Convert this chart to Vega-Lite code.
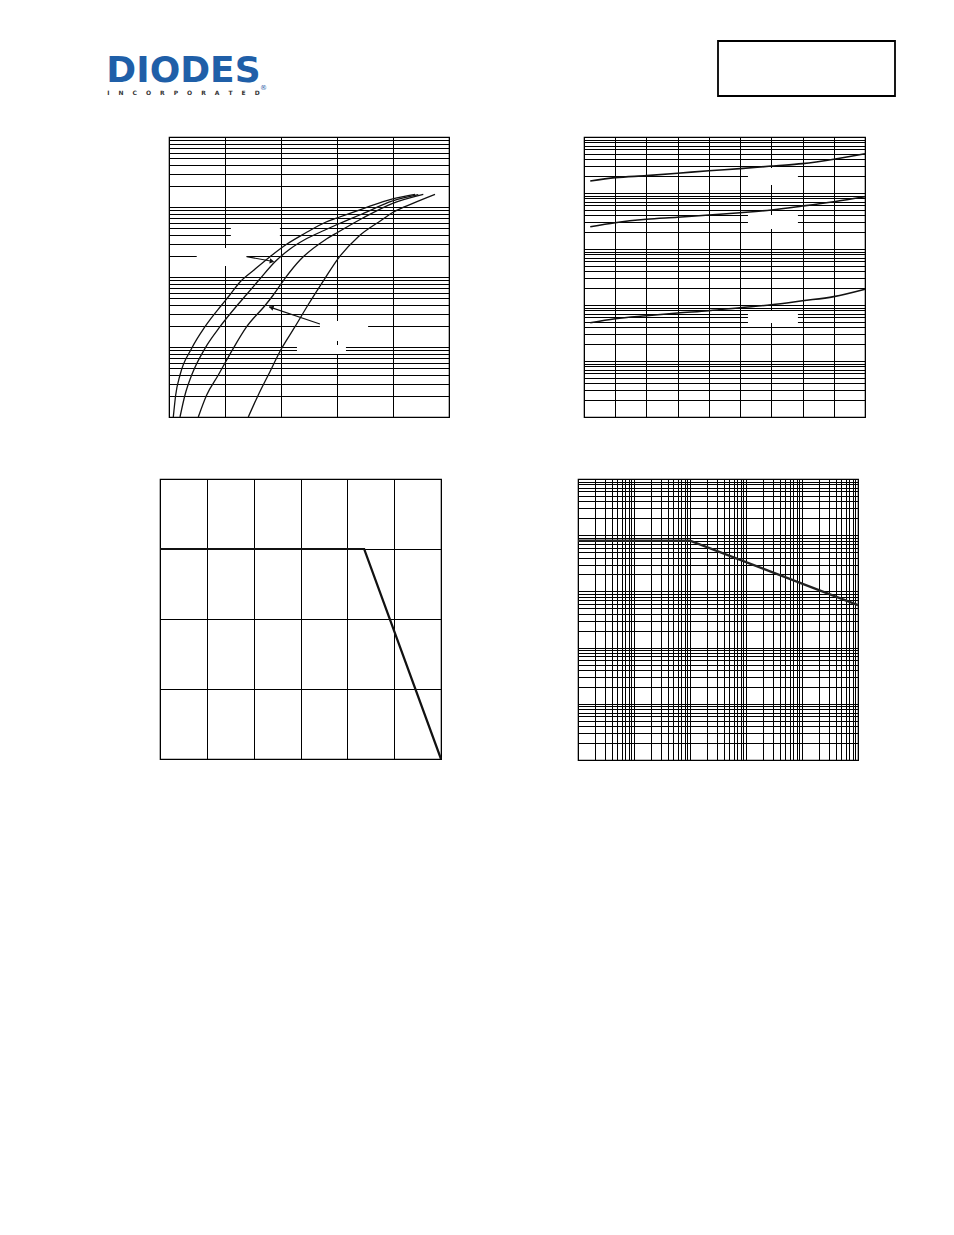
{
  "$schema": "https://vega.github.io/schema/vega-lite/v6.json",
  "padding": {"left": 105, "top": 40, "right": 0, "bottom": 0},
  "background": "white",
  "config": {
    "view": {"stroke": "black", "strokeWidth": 1.2},
    "axis": {"domain": false, "ticks": false, "labels": false, "grid": true, "gridColor": "black", "gridOpacity": 1, "gridWidth": 1}
  },
  "datasets": {
    "c1": [
      {"s": "A", "x": 0.0154, "y": 0.1}, {"s": "A", "x": 0.0239, "y": 0.2062}, {"s": "A", "x": 0.0393, "y": 0.398}, {"s": "A", "x": 0.0811, "y": 0.958},
      {"s": "A", "x": 0.1286, "y": 1.95}, {"s": "A", "x": 0.1882, "y": 3.98}, {"s": "A", "x": 0.2143, "y": 5.35}, {"s": "A", "x": 0.2536, "y": 8.48},
      {"s": "A", "x": 0.3036, "y": 12.6}, {"s": "A", "x": 0.3607, "y": 19.5}, {"s": "A", "x": 0.4214, "y": 29.6}, {"s": "A", "x": 0.4857, "y": 42.1},
      {"s": "A", "x": 0.5571, "y": 60.1}, {"s": "A", "x": 0.6046, "y": 70.8}, {"s": "A", "x": 0.6893, "y": 93.6}, {"s": "A", "x": 0.7989, "y": 131},
      {"s": "A", "x": 0.8786, "y": 152},
      {"s": "B", "x": 0.0393, "y": 0.1}, {"s": "B", "x": 0.0571, "y": 0.2062}, {"s": "B", "x": 0.0811, "y": 0.398}, {"s": "B", "x": 0.1286, "y": 0.958},
      {"s": "B", "x": 0.1821, "y": 1.95}, {"s": "B", "x": 0.2446, "y": 3.98}, {"s": "B", "x": 0.2786, "y": 5.71}, {"s": "B", "x": 0.3214, "y": 9.06},
      {"s": "B", "x": 0.3786, "y": 16.5}, {"s": "B", "x": 0.4321, "y": 25.1}, {"s": "B", "x": 0.4857, "y": 34.3}, {"s": "B", "x": 0.5571, "y": 46.9},
      {"s": "B", "x": 0.6046, "y": 57.2}, {"s": "B", "x": 0.6893, "y": 79.4}, {"s": "B", "x": 0.7989, "y": 122}, {"s": "B", "x": 0.8904, "y": 150},
      {"s": "C", "x": 0.1046, "y": 0.1}, {"s": "C", "x": 0.1346, "y": 0.2062}, {"s": "C", "x": 0.1761, "y": 0.398}, {"s": "C", "x": 0.2296, "y": 0.958},
      {"s": "C", "x": 0.2775, "y": 1.95}, {"s": "C", "x": 0.3446, "y": 3.98}, {"s": "C", "x": 0.3725, "y": 5.53}, {"s": "C", "x": 0.4143, "y": 9.58},
      {"s": "C", "x": 0.4679, "y": 17.5}, {"s": "C", "x": 0.5571, "y": 33.8}, {"s": "C", "x": 0.6046, "y": 43.9}, {"s": "C", "x": 0.6893, "y": 68.5},
      {"s": "C", "x": 0.7989, "y": 113}, {"s": "C", "x": 0.9082, "y": 152},
      {"s": "D", "x": 0.2832, "y": 0.1}, {"s": "D", "x": 0.3189, "y": 0.2062}, {"s": "D", "x": 0.3546, "y": 0.398}, {"s": "D", "x": 0.4025, "y": 0.958},
      {"s": "D", "x": 0.45, "y": 1.95}, {"s": "D", "x": 0.4964, "y": 3.98}, {"s": "D", "x": 0.5571, "y": 9.58}, {"s": "D", "x": 0.6046, "y": 18.5},
      {"s": "D", "x": 0.6761, "y": 37.7}, {"s": "D", "x": 0.7596, "y": 65.2}, {"s": "D", "x": 0.7989, "y": 83.4}, {"s": "D", "x": 0.8429, "y": 101},
      {"s": "D", "x": 0.95, "y": 152}
    ],
    "c1gaps": [
      {"x": 0.221, "x2": 0.396, "y": 55.3, "y2": 33.8},
      {"x": 0.099, "x2": 0.277, "y": 26.0, "y2": 14.4},
      {"x": 0.539, "x2": 0.711, "y": 2.35, "y2": 1.22},
      {"x": 0.457, "x2": 0.632, "y": 1.07, "y2": 0.794}
    ],
    "c1arrows": [
      {"x": 0.2775, "y": 19.5, "x2": 0.3679, "y2": 16.8},
      {"x": 0.539, "y": 2.13, "x2": 0.358, "y2": 3.75}
    ],
    "c1head1": [{"x": 0.3679, "y": 16.8}],
    "c1head2": [{"x": 0.365, "y": 3.68}],
    "c2": [
      {"s": "1", "x": -45, "y": 16.4}, {"s": "1", "x": -25, "y": 18.8}, {"s": "1", "x": 0, "y": 20.4}, {"s": "1", "x": 25, "y": 22.5}, {"s": "1", "x": 50, "y": 25.0},
      {"s": "1", "x": 75, "y": 27.2}, {"s": "1", "x": 100, "y": 30.3}, {"s": "1", "x": 125, "y": 33.4}, {"s": "1", "x": 150, "y": 40.0}, {"s": "1", "x": 175, "y": 50.3},
      {"s": "2", "x": -45, "y": 2.50}, {"s": "2", "x": -25, "y": 2.95}, {"s": "2", "x": 0, "y": 3.39}, {"s": "2", "x": 25, "y": 3.68}, {"s": "2", "x": 50, "y": 4.05},
      {"s": "2", "x": 75, "y": 4.45}, {"s": "2", "x": 100, "y": 4.97}, {"s": "2", "x": 125, "y": 5.86}, {"s": "2", "x": 150, "y": 7.0}, {"s": "2", "x": 175, "y": 8.59},
      {"s": "3", "x": -45, "y": 0.0483}, {"s": "3", "x": -25, "y": 0.0569}, {"s": "3", "x": 0, "y": 0.0644}, {"s": "3", "x": 25, "y": 0.0719}, {"s": "3", "x": 50, "y": 0.0791},
      {"s": "3", "x": 75, "y": 0.0895}, {"s": "3", "x": 100, "y": 0.101}, {"s": "3", "x": 125, "y": 0.119}, {"s": "3", "x": 150, "y": 0.141}, {"s": "3", "x": 175, "y": 0.191}
    ],
    "c2gaps": [
      {"x": 81.3, "x2": 121.3, "y": 27.9, "y2": 13.9},
      {"x": 81.3, "x2": 121.3, "y": 4.05, "y2": 2.28},
      {"x": 81.3, "x2": 121.3, "y": 0.0781, "y2": 0.0477}
    ],
    "c3": [{"x": 0, "y": 300}, {"x": 109, "y": 300}, {"x": 150, "y": 0}],
    "c4": [{"x": 0.001, "y": 80}, {"x": 0.1, "y": 80}, {"x": 100, "y": 5.7}],
    "logo": [{"name": "DIODES", "sub": "I\u2003\u2002N\u2003\u2002C\u2003\u2002O\u2003\u2002R\u2003\u2002P\u2003\u2002O\u2003\u2002R\u2003\u2002A\u2003\u2002T\u2003\u2002E\u2003\u2002D", "r": "®"}],
    "blank": [{"t": ""}]
  },
  "spacing": 39,
  "vconcat": [
    {
      "spacing": 450,
      "hconcat": [
        {
          "width": 157, "height": 55,
          "view": {"stroke": null},
          "data": {"name": "logo"},
          "layer": [
            {"mark": {"type": "text", "align": "center", "baseline": "middle", "font": "DejaVu Sans", "fontWeight": "bold", "fontSize": 36, "color": "#1f5fa8", "dy": 2}, "encoding": {"text": {"field": "name"}}},
            {"mark": {"type": "text", "align": "center", "baseline": "middle", "font": "DejaVu Sans", "fontWeight": "bold", "fontSize": 6, "color": "#333333", "dy": 24}, "encoding": {"text": {"field": "sub"}}},
            {"mark": {"type": "text", "align": "center", "baseline": "middle", "font": "DejaVu Sans", "fontSize": 7, "color": "#1f5fa8", "dx": 80, "dy": 19}, "encoding": {"text": {"field": "r"}}}
          ]
        },
        {
          "width": 177, "height": 55,
          "view": {"stroke": "black", "strokeWidth": 1.8},
          "data": {"name": "blank"},
          "mark": {"type": "text"},
          "encoding": {"text": {"field": "t"}}
        }
      ]
    },
    {
      "spacing": 133,
      "hconcat": [
        {
          "spacing": 0,
          "hconcat": [
            {
              "width": 63, "height": 10,
              "view": {"stroke": null, "fill": "white"},
              "data": {"name": "blank"},
              "mark": {"type": "text"},
              "encoding": {"text": {"field": "t"}}
            },
            {
              "width": 280, "height": 280,
              "encoding": {
                "x": {"field": "x", "type": "quantitative", "scale": {"domain": [0, 1], "nice": false, "zero": false}, "axis": {"title": null, "values": [0, 0.2, 0.4, 0.6, 0.8, 1], "maxExtent": 0}},
                "y": {"field": "y", "type": "quantitative", "scale": {"type": "log", "domain": [0.1, 1000], "nice": false},
                      "axis": {"title": null, "minExtent": 0, "maxExtent": 0, "values": [0.1,0.2,0.3,0.4,0.5,0.6,0.7,0.8,0.9,1,2,3,4,5,6,7,8,9,10,20,30,40,50,60,70,80,90,100,200,300,400,500,600,700,800,900,1000]}}
              },
              "layer": [
                {
                  "data": {"name": "c1gaps"},
                  "mark": {"type": "rect", "fill": "white"},
                  "encoding": {"x2": {"field": "x2"}, "y2": {"field": "y2"}}
                },
                {
                  "data": {"name": "c1"},
                  "mark": {"type": "line", "color": "#111111", "strokeWidth": 1.3, "interpolate": "monotone"},
                  "encoding": {"detail": {"field": "s"}}
                },
                {
                  "data": {"name": "c1arrows"},
                  "mark": {"type": "rule", "color": "#111111", "strokeWidth": 1.2},
                  "encoding": {"x2": {"field": "x2"}, "y2": {"field": "y2"}}
                },
                {
                  "data": {"name": "c1head1"},
                  "mark": {"type": "point", "shape": "triangle-up", "filled": true, "color": "#111111", "opacity": 1, "size": 28, "angle": 100},
                  "encoding": {}
                },
                {
                  "data": {"name": "c1head2"},
                  "mark": {"type": "point", "shape": "triangle-up", "filled": true, "color": "#111111", "opacity": 1, "size": 28, "angle": 289},
                  "encoding": {}
                }
              ]
            }
          ]
        },
        {
          "width": 281, "height": 280,
          "encoding": {
            "x": {"field": "x", "type": "quantitative", "scale": {"domain": [-50, 175], "nice": false, "zero": false}, "axis": {"title": null, "values": [-50,-25,0,25,50,75,100,125,150,175], "maxExtent": 0}},
            "y": {"field": "y", "type": "quantitative", "scale": {"type": "log", "domain": [0.001, 100], "nice": false},
                  "axis": {"title": null, "minExtent": 0, "maxExtent": 0, "values": [0.001,0.002,0.003,0.004,0.005,0.006,0.007,0.008,0.009,0.01,0.02,0.03,0.04,0.05,0.06,0.07,0.08,0.09,0.1,0.2,0.3,0.4,0.5,0.6,0.7,0.8,0.9,1,2,3,4,5,6,7,8,9,10,20,30,40,50,60,70,80,90,100]}}
          },
          "layer": [
            {
              "data": {"name": "c2gaps"},
              "mark": {"type": "rect", "fill": "white"},
              "encoding": {"x2": {"field": "x2"}, "y2": {"field": "y2"}}
            },
            {
              "data": {"name": "c2"},
              "mark": {"type": "line", "color": "#111111", "strokeWidth": 1.6, "interpolate": "monotone"},
              "encoding": {"detail": {"field": "s"}}
            }
          ]
        }
      ]
    },
    {
      "spacing": 127,
      "hconcat": [
        {
          "spacing": 0,
          "hconcat": [
            {
              "width": 50, "height": 10,
              "view": {"stroke": null, "fill": "white"},
              "data": {"name": "blank"},
              "mark": {"type": "text"},
              "encoding": {"text": {"field": "t"}}
            },
            {
              "width": 281, "height": 280,
              "data": {"name": "c3"},
              "mark": {"type": "line", "color": "#111111", "strokeWidth": 2.2},
              "encoding": {
                "x": {"field": "x", "type": "quantitative", "scale": {"domain": [0, 150], "nice": false, "zero": false},
                      "axis": {"title": null, "orient": "top", "minExtent": 18, "maxExtent": 18, "values": [0, 25, 50, 75, 100, 125, 150]}},
                "y": {"field": "y", "type": "quantitative", "scale": {"domain": [0, 400], "nice": false},
                      "axis": {"title": null, "minExtent": 0, "maxExtent": 0, "values": [0, 100, 200, 300, 400]}}
              }
            }
          ]
        },
        {
          "width": 280, "height": 281,
          "data": {"name": "c4"},
          "mark": {"type": "line", "color": "#222222", "strokeWidth": 2.2},
          "encoding": {
            "x": {"field": "x", "type": "quantitative", "scale": {"type": "log", "domain": [0.001, 100], "nice": false},
                  "axis": {"title": null, "orient": "top", "minExtent": 18, "maxExtent": 18, "values": [0.001,0.002,0.003,0.004,0.005,0.006,0.007,0.008,0.009,0.01,0.02,0.03,0.04,0.05,0.06,0.07,0.08,0.09,0.1,0.2,0.3,0.4,0.5,0.6,0.7,0.8,0.9,1,2,3,4,5,6,7,8,9,10,20,30,40,50,60,70,80,90,100]}},
            "y": {"field": "y", "type": "quantitative", "scale": {"type": "log", "domain": [0.01, 1000], "nice": false},
                  "axis": {"title": null, "minExtent": 0, "maxExtent": 0, "values": [0.01,0.02,0.03,0.04,0.05,0.06,0.07,0.08,0.09,0.1,0.2,0.3,0.4,0.5,0.6,0.7,0.8,0.9,1,2,3,4,5,6,7,8,9,10,20,30,40,50,60,70,80,90,100,200,300,400,500,600,700,800,900,1000]}}
          }
        }
      ]
    }
  ]
}
